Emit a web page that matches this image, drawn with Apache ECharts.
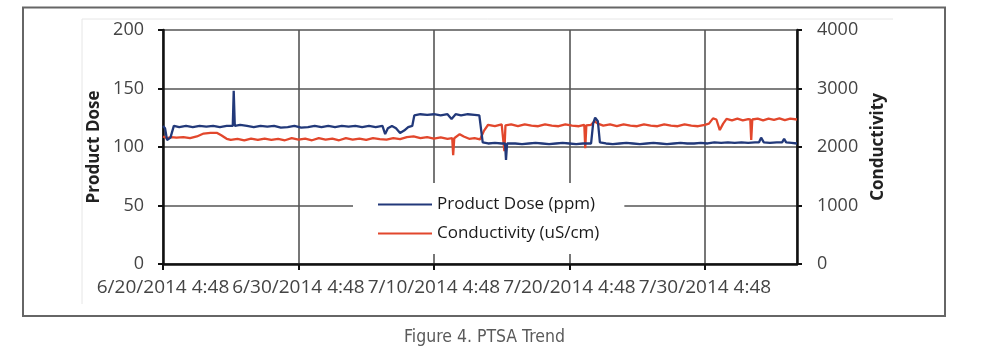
<!DOCTYPE html>
<html>
<head>
<meta charset="utf-8">
<script src="https://cdn.jsdelivr.net/npm/echarts@6/dist/echarts.min.js"></script>
<style>
  html, body { margin: 0; padding: 0; background: #fff; }
  #chart { width: 981px; height: 353px; }
</style>
</head>
<body>
<div id="chart"></div>
<script>
// x values are days since 6/20/2014 4:48
const xTickLabels = ['6/20/2014 4:48', '6/30/2014 4:48', '7/10/2014 4:48', '7/20/2014 4:48', '7/30/2014 4:48'];
const leftTicks = [0, 50, 100, 150, 200];
const rightTicks = [0, 1000, 2000, 3000, 4000];

// Product Dose (ppm), [day, value]
const doseData = [
  [0, 118], [0.15, 116], [0.3, 106], [0.55, 108], [0.8, 118], [1.2, 117], [1.7, 118], [2.2, 117],
  [2.7, 118], [3.2, 117.5], [3.7, 118], [4.2, 117], [4.7, 118], [5.15, 118], [5.22, 148], [5.3, 118],
  [5.7, 119], [6.2, 118], [6.7, 117], [7.2, 118], [7.7, 117.5], [8.2, 118], [8.7, 116.5], [9.2, 117],
  [9.7, 118], [10.2, 116.5], [10.7, 117], [11.2, 118], [11.7, 117], [12.2, 118], [12.7, 117], [13.2, 118],
  [13.7, 117.5], [14.2, 118], [14.7, 117], [15.2, 118], [15.7, 117], [16.2, 118], [16.4, 111], [16.6, 116],
  [16.9, 118], [17.2, 116], [17.5, 112], [17.8, 114], [18.1, 117], [18.4, 118], [18.55, 127], [19.0, 128],
  [19.5, 127.5], [20.0, 128], [20.5, 127], [21.0, 128], [21.3, 124], [21.6, 128], [22.0, 127], [22.5, 128],
  [23.0, 127.5], [23.35, 127], [23.6, 104], [24.0, 103], [24.5, 103.5], [25.0, 103], [25.25, 103], [25.32, 89],
  [25.4, 103], [26.0, 103], [26.5, 102.5], [27.0, 103], [27.5, 103.5], [28.0, 103], [28.5, 102.5], [29.0, 103],
  [29.5, 103.5], [30.0, 103], [30.5, 102.5], [31.0, 103], [31.6, 103], [31.75, 120], [31.9, 125], [32.1, 122],
  [32.25, 104], [32.7, 103], [33.2, 102.5], [33.7, 103], [34.2, 103.5], [34.7, 103], [35.2, 102.5], [35.7, 103],
  [36.2, 103.5], [36.7, 103], [37.2, 102.5], [37.7, 103], [38.2, 103.5], [38.7, 103], [39.2, 103], [39.7, 103.5],
  [40.2, 103], [40.7, 104], [41.2, 103.5], [41.7, 104], [42.2, 103.5], [42.7, 104], [43.2, 103.5], [43.7, 104],
  [44.0, 104], [44.15, 108], [44.35, 104], [44.8, 103.5], [45.3, 104], [45.7, 104], [45.85, 107], [46.0, 104],
  [46.4, 103.5], [46.8, 103]
];

// Conductivity (uS/cm), [day, value]
const condData = [
  [0, 2180], [0.3, 2150], [0.6, 2170], [1.0, 2160], [1.5, 2170], [2.0, 2150], [2.5, 2180], [3.0, 2230],
  [3.5, 2240], [4.0, 2240], [4.3, 2200], [4.7, 2140], [5.0, 2120], [5.5, 2140], [6.0, 2115], [6.5, 2145],
  [7.0, 2120], [7.5, 2145], [8.0, 2120], [8.5, 2140], [9.0, 2115], [9.5, 2150], [10.0, 2125], [10.5, 2145],
  [11.0, 2115], [11.5, 2150], [12.0, 2125], [12.5, 2145], [13.0, 2115], [13.5, 2150], [14.0, 2125], [14.5, 2145],
  [15.0, 2120], [15.5, 2150], [16.0, 2135], [16.5, 2125], [17.0, 2150], [17.5, 2135], [18.0, 2170], [18.5, 2180],
  [19.0, 2150], [19.5, 2170], [20.0, 2145], [20.5, 2165], [21.0, 2140], [21.35, 2150], [21.42, 1860], [21.5, 2150],
  [21.9, 2220], [22.2, 2180], [22.6, 2140], [23.0, 2150], [23.4, 2130], [23.7, 2280], [24.0, 2380], [24.5, 2355],
  [25.0, 2385], [25.12, 2380], [25.2, 1930], [25.28, 2370], [25.7, 2385], [26.2, 2355], [26.7, 2385], [27.2, 2365],
  [27.7, 2355], [28.2, 2385], [28.7, 2365], [29.2, 2355], [29.7, 2385], [30.2, 2365], [30.7, 2355], [31.1, 2380],
  [31.17, 1980], [31.25, 2370], [31.6, 2380], [31.85, 2440], [32.1, 2400], [32.5, 2365], [33.0, 2385], [33.5, 2355],
  [34.0, 2385], [34.5, 2365], [35.0, 2355], [35.5, 2385], [36.0, 2365], [36.5, 2355], [37.0, 2385], [37.5, 2365],
  [38.0, 2355], [38.5, 2385], [39.0, 2365], [39.5, 2355], [40.0, 2380], [40.3, 2400], [40.6, 2490], [40.85, 2470],
  [41.1, 2290], [41.35, 2400], [41.6, 2480], [42.0, 2455], [42.4, 2485], [42.8, 2455], [43.2, 2475], [43.35, 2470],
  [43.42, 2120], [43.5, 2470], [43.9, 2485], [44.3, 2455], [44.7, 2485], [45.1, 2465], [45.5, 2490], [45.9, 2460],
  [46.3, 2485], [46.8, 2470]
];

const chart = echarts.init(document.getElementById('chart'));
const tickFont = 'Open Sans';
chart.setOption({
  animation: false,
  backgroundColor: '#fff',
  grid: { left: 163, right: 184, top: 30, bottom: 89 },
  legend: {
    orient: 'vertical',
    left: 353,
    top: 183,
    padding: [13, 25, 12, 25],
    itemGap: 12,
    itemWidth: 54,
    itemHeight: 2,
    icon: 'rect',
    backgroundColor: '#fff',
    textStyle: { fontFamily: tickFont, fontSize: 17, color: '#1a1a1a' },
    data: ['Product Dose (ppm)', 'Conductivity (uS/cm)']
  },
  xAxis: {
    type: 'value',
    min: 0,
    max: 46.8,
    interval: 10,
    axisLine: { show: true, lineStyle: { color: '#111', width: 2.5 } },
    axisTick: { show: true, length: 6, lineStyle: { color: '#111', width: 2 } },
    splitLine: { show: true, lineStyle: { color: '#555', width: 1.6 } },
    axisLabel: {
      showMaxLabel: false,
      margin: 14,
      fontFamily: tickFont,
      fontSize: 19,
      color: '#444',
      formatter: v => (v % 10 === 0 ? xTickLabels[Math.round(v / 10)] : '')
    }
  },
  yAxis: [
    {
      type: 'value',
      min: leftTicks[0],
      max: leftTicks[leftTicks.length - 1],
      interval: 50,
      name: 'Product Dose',
      nameLocation: 'middle',
      nameGap: 57,
      nameRotate: 90,
      nameTextStyle: { fontFamily: tickFont, fontSize: 17, fontWeight: 'bold', color: '#222' },
      axisLine: { show: true, lineStyle: { color: '#111', width: 2.5 } },
      axisTick: { show: true, length: 5, lineStyle: { color: '#111', width: 2 } },
      splitLine: { show: true, lineStyle: { color: '#555', width: 1.6 } },
      axisLabel: { margin: 19, fontFamily: tickFont, fontSize: 18, color: '#444', formatter: v => String(v) }
    },
    {
      type: 'value',
      position: 'right',
      min: rightTicks[0],
      max: rightTicks[rightTicks.length - 1],
      interval: 1000,
      name: 'Conductivity',
      nameLocation: 'middle',
      nameGap: 73,
      nameRotate: 90,
      nameTextStyle: { fontFamily: tickFont, fontSize: 17, fontWeight: 'bold', color: '#222' },
      axisLine: { show: true, lineStyle: { color: '#111', width: 2.5 } },
      axisTick: { show: true, length: 5, lineStyle: { color: '#111', width: 2 } },
      splitLine: { show: false },
      axisLabel: { margin: 20, fontFamily: tickFont, fontSize: 18, color: '#444', formatter: v => String(v) }
    }
  ],
  series: [
    {
      name: 'Product Dose (ppm)',
      type: 'line',
      yAxisIndex: 0,
      data: doseData,
      symbol: 'none',
      color: '#22397a',
      lineStyle: { width: 2.3, color: '#22397a' },
      z: 3
    },
    {
      name: 'Conductivity (uS/cm)',
      type: 'line',
      yAxisIndex: 1,
      data: condData,
      symbol: 'none',
      color: '#e2472c',
      lineStyle: { width: 2.3, color: '#e2472c' },
      z: 2
    }
  ],
  graphic: [
    {
      type: 'rect',
      shape: { x: 23, y: 7.5, width: 922, height: 308.5 },
      style: { fill: 'none', stroke: '#666', lineWidth: 2 },
      z: -1
    },
    {
      type: 'polyline',
      shape: { points: [[82, 304], [82, 19], [893, 19]] },
      style: { fill: 'none', stroke: '#e6e6e6', lineWidth: 1 },
      z: -1
    },
    {
      type: 'text',
      left: 404,
      top: 328,
      style: {
        text: 'Figure 4. PTSA Trend',
        font: '17.5px "Liberation Sans Narrow", "DejaVu Sans Condensed", sans-serif',
        fill: '#5a5a5a'
      }
    }
  ]
});
</script>
</body>
</html>
